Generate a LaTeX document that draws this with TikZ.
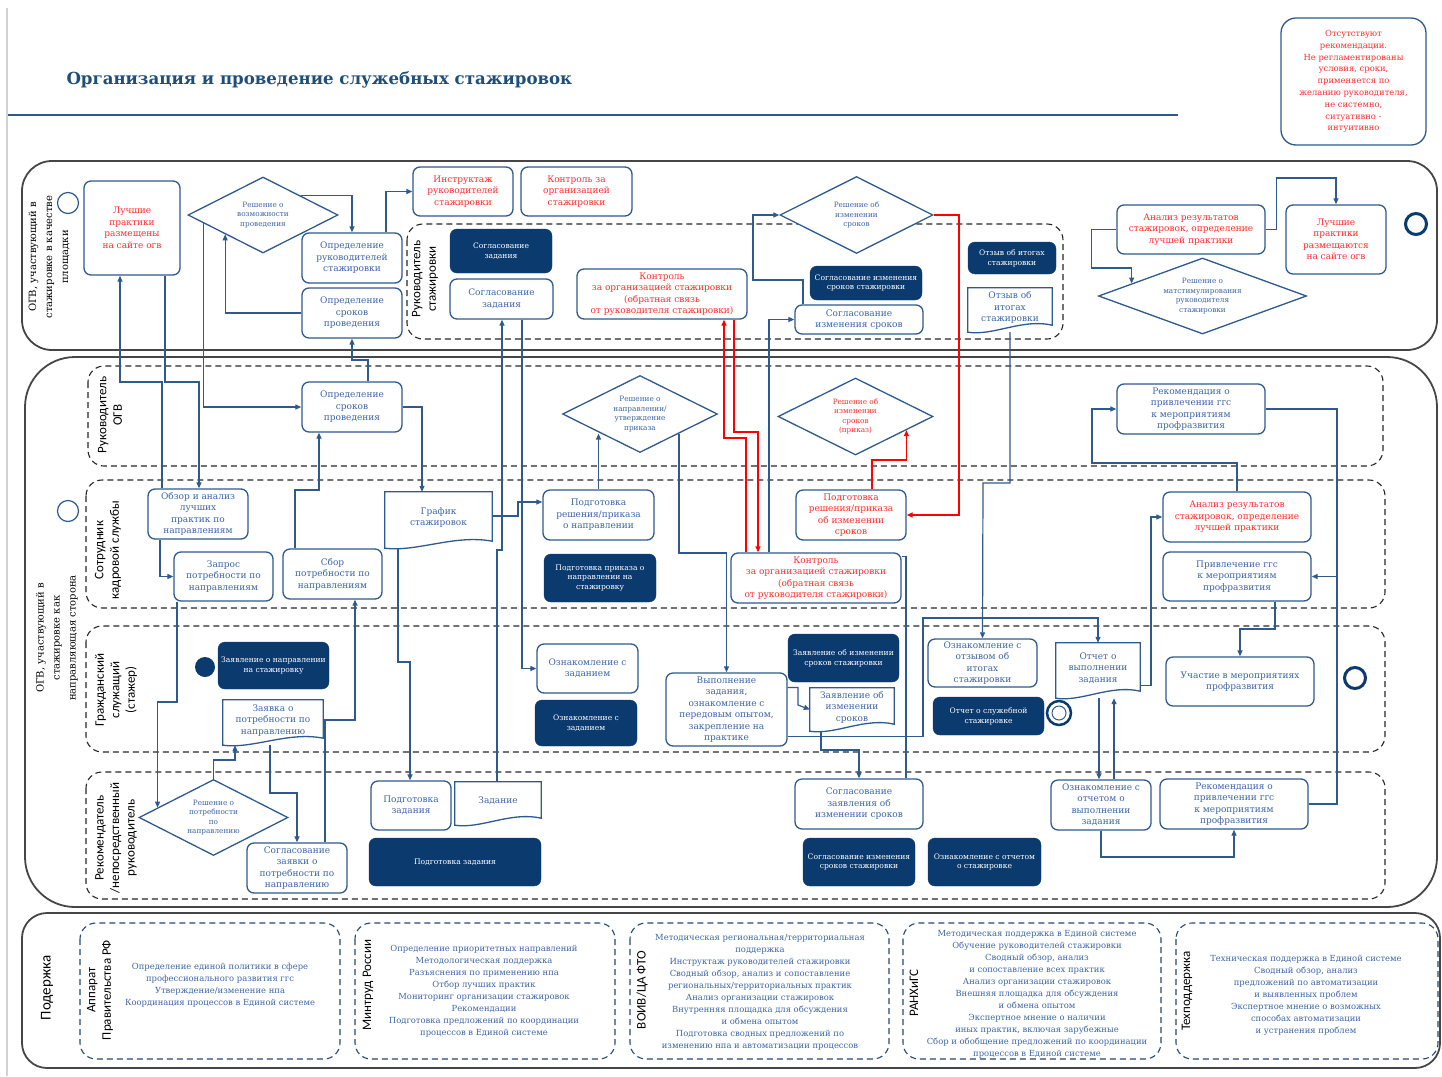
\documentclass[tikz,border=0pt]{standalone}
\usepackage{fontspec}
\setmainfont{DejaVu Serif}
\newfontfamily\lanefont{Carlito}
\usetikzlibrary{shapes.geometric,arrows.meta,calc}

\definecolor{ogvline}{HTML}{2E5A8E}
\definecolor{ogvtext}{HTML}{3C64A4}
\definecolor{ogvnavy}{HTML}{0B3A6E}
\definecolor{ogvred}{HTML}{FF2D2D}
\definecolor{ogvtitle}{HTML}{1F4E79}

% document shape with a wavy bottom, drawn round a named node
\newcommand\docshape[1]{%
  \draw[docline] (#1.north west) -- (#1.north east) -- ($(#1.south east)+(0,-7)$)
    .. controls ($(#1.south east)!0.35!(#1.south west)+(0,-14)$)
    and ($(#1.south east)!0.7!(#1.south west)+(0,4)$) .. (#1.south west) -- cycle;}
% empty last line that lifts the text of a document above its wave
\newcommand\wavegap{\\[-5pt]\mbox{}}

\begin{document}
\begin{tikzpicture}[x=1pt, y=-1pt,
  box/.style={draw=ogvline, line width=1.3pt, rounded corners=7pt, fill=white,
    align=center, text=ogvtext, inner sep=1pt, font=\fontsize{9}{11.5}\selectfont},
  redbox/.style={box, text=ogvred},
  navybox/.style={draw=ogvnavy, fill=ogvnavy, rounded corners=7pt, align=center,
    text=white, inner sep=1pt, font=\fontsize{7.6}{9.8}\selectfont},
  decision/.style={diamond, draw=ogvline, line width=1.3pt, fill=white, aspect=2,
    align=center, text=ogvtext, inner sep=0pt, font=\fontsize{7.3}{9.6}\selectfont},
  doc/.style={align=center, text=ogvtext, inner sep=1pt, font=\fontsize{9}{11.5}\selectfont},
  docline/.style={draw=ogvline, line width=1.3pt},
  flow/.style={draw=ogvline, line width=1.2pt, -{Triangle[length=6pt,width=5pt]}},
  link/.style={draw=ogvline, line width=1.2pt},
  redflow/.style={draw=red, line width=1.3pt, -{Triangle[length=6pt,width=5pt]}},
  pool/.style={draw=gray!55!black, line width=1.8pt},
  lane/.style={draw=black!85, line width=1.1pt, dash pattern=on 6pt off 4pt, rounded corners=16pt},
  sublane/.style={draw=ogvline!80!black, line width=1.1pt, dash pattern=on 6pt off 4pt, rounded corners=16pt},
  lanelabel/.style={rotate=90, align=center, font=\lanefont\fontsize{13}{15.5}\selectfont},
  poollabel/.style={rotate=90, align=center, font=\fontsize{10}{16}\selectfont},
  supporttext/.style={align=center, text=ogvtext, font=\fontsize{8.4}{12}\selectfont},
  startev/.style={circle, draw=ogvline, line width=1.2pt, minimum size=21pt, inner sep=0pt},
  endev/.style={circle, draw=ogvnavy, line width=3pt, minimum size=21pt, inner sep=0pt}]
\useasboundingbox (0,0) rectangle (1442,1076);

% page edge, title and rule
\draw[gray!35, line width=2pt] (7,8) -- (7,1076);
\node[anchor=west, text=ogvtitle, font=\fontsize{16.6}{19}\bfseries] (title) at (63,80)
  {Организация и проведение служебных стажировок};
\draw[ogvline, line width=1.2pt] (8,115) -- (1178,115);
\node[redbox, rounded corners=15pt, minimum width=145, minimum height=127,
  font=\fontsize{8.4}{11.8}\selectfont] (note) at (1353.5,81.5)
  {Отсутствуют\\рекомендации.\\Не регламентированы\\условия, сроки,\\применяется по\\желанию руководителя,\\не системно,\\ситуативно -\\интуитивно};

% pools and lanes
\draw[pool, rounded corners=30pt] (22,161) rectangle (1437,350);
\draw[pool, rounded corners=50pt] (25,357) rectangle (1437,907);
\draw[pool, rounded corners=25pt] (22,913) rectangle (1440,1068);
\draw[lane] (407,224) rectangle (1063,339);
\draw[lane] (88,366) rectangle (1383,466);
\draw[lane] (86,480) rectangle (1385,608);
\draw[lane] (86,626) rectangle (1385,752);
\draw[lane] (86,772) rectangle (1385,899);
\foreach \xa/\xb in {80/340, 355/615, 630/889, 903/1161, 1176/1438}
  \draw[sublane] (\xa,923) rectangle (\xb,1059);

\node[poollabel] (pool1lbl) at (49,257) {ОГВ, участвующий в\\стажировке в качестве\\площадки};
\node[poollabel] (pool2lbl) at (57,638) {ОГВ, участвующий в\\стажировке как\\направляющая сторона};
\node[lanelabel, font=\lanefont\fontsize{15}{17}\selectfont] (pool3lbl) at (47,988) {Подержка};
\node[lanelabel] (lblrs) at (425,279) {Руководитель\\стажировки};
\node[lanelabel] (lblro) at (110,415) {Руководитель\\ОГВ};
\node[lanelabel] (lblks) at (108,550) {Сотрудник\\кадровой службы};
\node[lanelabel] (lblgs) at (116,690) {Гражданский\\служащий\\(стажер)};
\node[lanelabel] (lblrr) at (116,838) {Рекомендатель\\/непосредственный\\руководитель};

% pool 1
\node[startev] (start1) at (68,203) {};
\node[redbox, minimum width=96, minimum height=94] (best1) at (132,228) {Лучшие\\практики\\размещены\\на сайте огв};
\node[decision, minimum width=150, minimum height=76] (dec1) at (263,215) {Решение о\\возможности\\проведения};
\node[box, minimum width=100, minimum height=50] (lead1) at (352,258) {Определение\\руководителей\\стажировки};
\node[box, minimum width=100, minimum height=50] (term1) at (352,313) {Определение\\сроков\\проведения};
\node[redbox, minimum width=100, minimum height=49] (brief) at (463,191.5) {Инструктаж\\руководителей\\стажировки};
\node[redbox, minimum width=111, minimum height=49] (ctrl1) at (576.5,191.5) {Контроль за\\организацией\\стажировки};
\node[navybox, minimum width=102, minimum height=44] (taskok1) at (501,251) {Согласование\\задания};
\node[box, minimum width=103, minimum height=40] (taskok2) at (501.5,299) {Согласование\\задания};
\node[redbox, minimum width=170, minimum height=50] (ctrl2) at (662,294) {Контроль\\за организацией стажировки\\(обратная связь\\от руководителя стажировки)};
\node[decision, minimum width=153, minimum height=77] (dec2) at (856.5,215) {Решение об\\изменении\\сроков};
\node[navybox, minimum width=112, minimum height=34] (chg1) at (866,283) {Согласование изменения\\сроков стажировки};
\node[box, minimum width=128, minimum height=29] (chg2) at (859,319.5) {Согласование\\изменения сроков};
\node[navybox, minimum width=88, minimum height=32] (fb1) at (1012,258) {Отзыв об итогах\\стажировки};
\node[doc, minimum width=84, minimum height=44] (fb2) at (1010,310) {Отзыв об\\итогах\\стажировки\wavegap};
\docshape{fb2}
\node[redbox, minimum width=148, minimum height=49] (anal1) at (1191,229.5) {Анализ результатов\\стажировок, определение\\лучшей практики};
\node[redbox, minimum width=100, minimum height=69] (best2) at (1336,239.5) {Лучшие\\практики\\размещаются\\на сайте огв};
\node[decision, minimum width=208, minimum height=76] (dec3) at (1202.5,296) {Решение о\\матстимулирования\\руководителя\\стажировки};
\node[endev] (end1) at (1416,224) {};

% pool 2
\node[startev] (start2) at (68,511) {};
\node[box, minimum width=100, minimum height=50] (term2) at (352,407) {Определение\\сроков\\проведения};
\node[decision, minimum width=155, minimum height=77] (dec4) at (640,414) {Решение о\\направлении/\\утверждение\\приказа};
\node[decision, text=ogvred, minimum width=155, minimum height=77] (dec5) at (855.5,416.5) {Решение об\\изменении\\сроков\\(приказ)};
\node[box, minimum width=148, minimum height=50] (rec1) at (1191,409) {Рекомендация о\\привлечении ггс\\к мероприятиям\\профразвития};
\node[box, minimum width=100, minimum height=50] (review) at (198,514) {Обзор и анализ\\лучших\\практик по\\направлениям};
\node[box, minimum width=99, minimum height=49] (request) at (223.5,576.5) {Запрос\\потребности по\\направлениям};
\node[box, minimum width=99, minimum height=50] (collect) at (332.5,574) {Сбор\\потребности по\\направлениям};
\node[doc, minimum width=107, minimum height=56] (sched) at (438.5,520) {График\\стажировок\wavegap};
\docshape{sched}
\node[box, minimum width=111, minimum height=50] (order1) at (598.5,515) {Подготовка\\решения/приказа\\о направлении};
\node[navybox, minimum width=112, minimum height=48] (order1d) at (600,578) {Подготовка приказа о\\направлении на\\стажировку};
\node[redbox, minimum width=110, minimum height=50] (order2) at (851,515) {Подготовка\\решения/приказа\\об изменении\\сроков};
\node[redbox, minimum width=170, minimum height=50] (ctrl3) at (816,578) {Контроль\\за организацией стажировки\\(обратная связь\\от руководителя стажировки)};
\node[redbox, minimum width=148, minimum height=50] (anal2) at (1237,517) {Анализ результатов\\стажировок, определение\\лучшей практики};
\node[box, minimum width=148, minimum height=49] (attract) at (1237,576.5) {Привлечение ггс\\к мероприятиям\\профразвития};
\node[circle, fill=ogvnavy, minimum size=20pt, inner sep=0pt] (start3) at (205,667) {};
\node[navybox, minimum width=111, minimum height=47] (apply1) at (273.5,665.5) {Заявление о направлении\\на стажировку};
\node[doc, minimum width=100, minimum height=45] (apply2) at (273,722.5) {Заявка о\\потребности по\\направлению\wavegap};
\docshape{apply2}
\node[box, minimum width=101, minimum height=49] (read1) at (587.5,668.5) {Ознакомление с\\заданием};
\node[navybox, minimum width=102, minimum height=46] (read1d) at (586,723) {Ознакомление с\\заданием};
\node[box, minimum width=121, minimum height=73] (perform) at (726.5,709.5) {Выполнение\\задания,\\ознакомление с\\передовым опытом,\\закрепление на\\практике};
\node[navybox, minimum width=111, minimum height=48] (chgapp1) at (843.5,658) {Заявление об изменении\\сроков стажировки};
\node[doc, minimum width=84, minimum height=43] (chgapp2) at (852,709.5) {Заявление об\\изменении\\сроков\wavegap};
\docshape{chgapp2}
\node[box, minimum width=109, minimum height=48] (readfb) at (982.5,663) {Ознакомление с\\отзывом об\\итогах\\стажировки};
\node[navybox, minimum width=111, minimum height=38] (report1) at (988.5,716) {Отчет о служебной\\стажировке};
\node[circle, draw=ogvnavy, line width=2.5pt, minimum size=24pt, inner sep=0pt] (ring1) at (1059,713) {};
\node[circle, draw=ogvline, line width=1pt, minimum size=14pt, inner sep=0pt] (ring1in) at (ring1) {};
\node[doc, minimum width=84, minimum height=55] (report2) at (1098,670.5) {Отчет о\\выполнении\\задания\wavegap};
\docshape{report2}
\node[box, minimum width=148, minimum height=49] (part) at (1240,681.5) {Участие в мероприятиях\\профразвития};
\node[endev] (end2) at (1355,678) {};
\node[decision, minimum width=149, minimum height=76] (dec6) at (213.5,817.5) {Решение о\\потребности\\по\\направлению};
\node[box, minimum width=100, minimum height=50] (agree1) at (297,868) {Согласование\\заявки о\\потребности по\\направлению};
\node[box, minimum width=80, minimum height=49] (task1) at (411,805.5) {Подготовка\\задания};
\node[doc, minimum width=86, minimum height=43] (task2) at (498,803.5) {Задание\wavegap};
\docshape{task2}
\node[navybox, minimum width=172, minimum height=48] (task1d) at (455,862) {Подготовка задания};
\node[box, minimum width=128, minimum height=50] (agree2) at (859,804) {Согласование\\заявления об\\изменении сроков};
\node[navybox, minimum width=112, minimum height=48] (agree2d) at (859,862) {Согласование изменения\\сроков стажировки};
\node[navybox, minimum width=113, minimum height=48] (readrep1) at (984.5,862) {Ознакомление с отчетом\\о стажировке};
\node[box, minimum width=100, minimum height=50] (readrep2) at (1101,805) {Ознакомление с\\отчетом о\\выполнении\\задания};
\node[box, minimum width=148, minimum height=50] (rec2) at (1234,804) {Рекомендация о\\привлечении ггс\\к мероприятиям\\профразвития};

% support pool
\node[lanelabel] (sup1lbl) at (100,990) {Аппарат\\Правительства РФ};
\node[lanelabel] (sup2lbl) at (368,985) {Минтруд России};
\node[lanelabel] (sup3lbl) at (642,990) {ВОИВ/ЦА ФТО};
\node[lanelabel] (sup4lbl) at (914,993) {РАНХиГС};
\node[lanelabel] (sup5lbl) at (1187,991) {Техподдержка};
\node[supporttext] (sup1) at (220,985) {Определение единой политики в сфере\\профессионального развития ггс\\Утверждение/изменение  нпа\\Координация процессов в  Единой системе};
\node[supporttext] (sup2) at (484,991) {Определение приоритетных направлений\\Методологическая поддержка\\Разъяснения по применению нпа\\Отбор лучших практик\\Мониторинг организации стажировок\\Рекомендации\\Подготовка предложений по координации\\процессов в  Единой системе};
\node[supporttext] (sup3) at (760,992) {Методическая региональная/территориальная\\поддержка\\Инструктаж руководителей стажировки\\Сводный обзор, анализ и сопоставление\\региональных/территориальных практик\\Анализ организации стажировок\\Внутренняя площадка для обсуждения\\и обмена опытом\\Подготовка сводных предложений по\\изменению нпа и автоматизации процессов};
\node[supporttext] (sup4) at (1037,994) {Методическая поддержка в Единой системе\\Обучение руководителей стажировки\\Сводный обзор, анализ\\и сопоставление всех практик\\Анализ организации стажировок\\Внешняя площадка для обсуждения\\и обмена опытом\\Экспертное мнение о наличии\\иных практик, включая зарубежные\\Сбор и обобщение предложений по координации\\процессов в  Единой системе};
\node[supporttext] (sup5) at (1306,995) {Техническая поддержка в Единой системе\\Сводный обзор, анализ\\предложений по автоматизации\\и выявленных проблем\\Экспертное мнение о возможных\\способах автоматизации\\и устранения проблем};

% connectors
\draw[flow] (best1.south -| 165,0) |- (199,382) -- (review.north -| 199,0);
\draw[flow] (review.north -| 162,0) |- (120,382) -- (best1.south -| 120,0);
\draw[flow] (dec1.188) |- (term2.west);
\draw[flow] (dec1.north east) -| (lead1.north);
\draw[flow] (term1.west) -| (dec1.south west);
\draw[flow] (term2.north -| 368,0) |- (352,360) -- (term1.south);
\draw[flow] (lead1.north -| 386,0) |- (brief.west);
\draw[flow] (term2.east) -| (sched.north -| 422,0);
\draw[flow] (review.south -| 160,0) |- (request.west);
\draw[flow] (collect.north -| 295,0) |- (319,490) -- (term2.south -| 319,0);
\draw[flow] (request.south -| 177,0) -- (177,702) -| (dec6.170);
\draw[flow] (dec6.north) |- (235,760) -- (apply2.south -| 235,0);
\draw[flow] (apply2.south -| 270,0) |- (297,793) -- (agree1.north -| 297,0);
\draw[flow] (agree1.north -| 325,0) |- (355,720) -- (collect.south -| 355,0);
\draw[flow] (sched.south -| 398,0) |- (410,662) -- (task1.north -| 410,0);
\draw[flow] (sched.east |- 0,516) -- (518,516) |- ([yshift=13pt]order1.west);
\draw[flow] (order1.north) -- (order1.north |- dec4.south west);
\draw[flow] (dec4.south east) |- (perform.north |- 0,553) -- (perform.north);
\draw[flow] (task2.north -| 497,0) |- (502,550) -- (taskok2.south -| 502,0);
\draw[flow] (taskok2.south -| 522,0) |- (read1.west);
\draw[redflow] (order2.north -| 872,0) |- (dec5.345 |- 0,460) -- (dec5.345);
\draw[redflow] (dec2.east) -- (959,215) |- (order2.east);
\draw[redflow] (ctrl3.north -| 746,0) |- (724,438) -- (ctrl2.south -| 724,0);
\draw[redflow] (ctrl2.south -| 734,0) |- (758,432) -- (ctrl3.north -| 758,0);
\draw[flow] (ctrl3.north -| 769,0) |- (chg2.west);
\draw[flow] (chg2.north -| 803,0) |- (753,280) |- (dec2.west);
\draw[link] (agree2.north -| 906,0) |- ([yshift=-4pt]ctrl3.north east);
\draw[flow] ([yshift=22pt]perform.east) -| (798,705) -- (chgapp2.west);
\draw[flow] ([yshift=-27pt]perform.east) -| (923,618) -| (report2.north);
\draw[flow] (chgapp2.south -| 821,0) |- (859,750) -- (agree2.north);
\draw[flow] (fb2.south) |- (983,483) -- (readfb.north);
\draw[flow] (report2.south -| 1099,0) -- (readrep2.north -| 1099,0);
\draw[flow] (readrep2.north -| 1114,0) -- (report2.south -| 1114,0);
\draw[flow] ([yshift=-15pt]report2.east) -| (1151,517) -- (anal2.west);
\draw[flow] (anal2.north) |- (1092,463) |- (rec1.west);
\draw[link] (rec2.east) -| (1337,409) -- (rec1.east);
\draw[flow] (attract.east -| 1337,0) -- (attract.east);
\draw[flow] (attract.south -| 1275,0) |- (1240,629) -- (part.north);
\draw[flow] (readrep2.south) |- (1234,857) -- (rec2.south -| 1234,0);
\draw[flow] (anal1.west) -- ++(-25,0) |- (dec3.170 |- 0,268) -- (dec3.170);
\draw[flow] (anal1.east) -- ++(11,0) |- (1336,178) -- (best2.north);
\end{tikzpicture}
\end{document}
